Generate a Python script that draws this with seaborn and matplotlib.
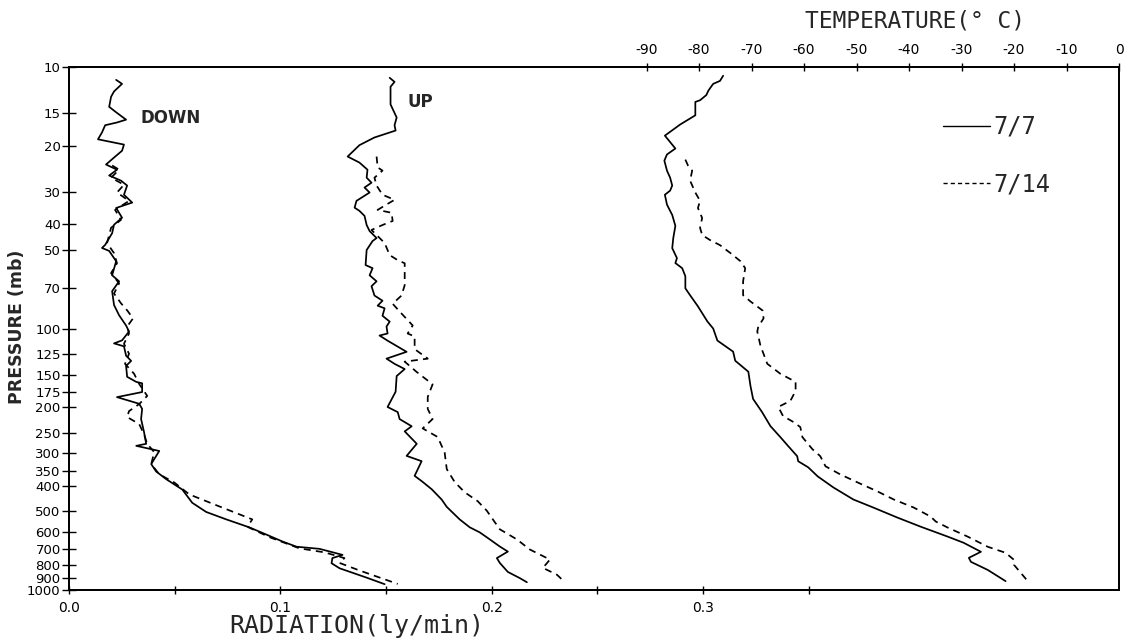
import numpy as np
import pandas as pd
import matplotlib
matplotlib.use("Agg")
import matplotlib.pyplot as plt
from matplotlib.lines import Line2D
from matplotlib.ticker import FixedLocator, NullLocator
import seaborn as sns

# ---- data ----
# downward radiation (ly/min) vs pressure (mb)
down_77_p = [11.2, 11.6, 12.4, 13.0, 14.2, 14.9, 15.9, 16.3, 16.7, 17.8, 18.9, 19.8, 20.9, 22.2,
             23.6, 24.7, 26.0, 27.2, 28.4, 30.8, 33.0, 34.6, 37.7, 40.1, 43.2, 47.9, 49.2, 50.5,
             55.3, 62.6, 66.0, 72.0, 81.3, 89.0, 97.4, 102.7, 111, 114, 117, 127, 133, 139, 153,
             160, 162, 175, 183, 194, 203, 222, 249, 276, 281, 294, 316, 330, 352, 377, 413, 464,
             503, 537, 576, 614, 652, 683, 696, 734, 755, 790, 826, 897, 950]
down_77_rad = [0.0223, 0.0251, 0.0213, 0.0199, 0.019, 0.0223, 0.027, 0.0227, 0.0171, 0.0156,
               0.0137, 0.026, 0.0251, 0.0213, 0.0175, 0.0227, 0.019, 0.0246, 0.0275, 0.026,
               0.0299, 0.0223, 0.0251, 0.0213, 0.0204, 0.0171, 0.0156, 0.019, 0.0223, 0.0204,
               0.0237, 0.0204, 0.0213, 0.0237, 0.027, 0.0284, 0.0251, 0.0213, 0.026, 0.027,
               0.0294, 0.027, 0.0275, 0.0318, 0.0346, 0.0346, 0.0227, 0.0332, 0.0346, 0.0341,
               0.0355, 0.0365, 0.0318, 0.0427, 0.0403, 0.0389, 0.0412, 0.046, 0.0536, 0.0583,
               0.0649, 0.0744, 0.0853, 0.0934, 0.1009, 0.1076, 0.1185, 0.1294, 0.1246, 0.1242,
               0.128, 0.1408, 0.1493]

down_714_p = [23.8, 24.7, 26.5, 28.2, 30.2, 32.5, 35.2, 38.4, 41.2, 47.1, 51.5, 56.3, 61.4, 67.2,
              73.5, 80.1, 85.2, 91.5, 98.3, 104.5, 114.4, 124.9, 136.5, 149, 163, 181, 194.5, 207,
              218, 232, 254, 276, 297, 330, 361, 388, 431, 479, 537, 573, 628, 693, 718, 755, 788,
              842, 948]
down_714_rad = [0.0204, 0.0237, 0.0199, 0.026, 0.0227, 0.0284, 0.0218, 0.0246, 0.0199, 0.018,
                0.0213, 0.0227, 0.0199, 0.0237, 0.0213, 0.0246, 0.0275, 0.0303, 0.0275, 0.0284,
                0.026, 0.0284, 0.0265, 0.0308, 0.0332, 0.037, 0.0332, 0.0284, 0.0275, 0.0332,
                0.0355, 0.037, 0.0403, 0.0389, 0.0427, 0.0498, 0.0569, 0.0711, 0.0867, 0.0844,
                0.0948, 0.109, 0.1209, 0.1303, 0.128, 0.1374, 0.1555]

# upward radiation (ly/min) vs pressure (mb)
up_77_p = [11.0, 11.4, 11.9, 13.9, 15.6, 16.7, 17.5, 18.6, 19.9, 22.0, 23.2, 24.7, 26.5, 27.7,
           28.9, 30.2, 32.5, 34.5, 35.5, 37.1, 40.2, 42.4, 45.1, 46.3, 50.1, 57.2, 58.8, 62.6,
           66.0, 68.9, 74.8, 78.3, 81.8, 83.7, 89.4, 94.1, 98.3, 104.5, 106.4, 111.3, 122.8,
           130.4, 136.5, 142.9, 152, 174.5, 199.6, 208.8, 222, 236.5, 247.4, 276, 307, 321.6,
           366, 386, 412, 451, 481, 537, 576, 602, 640, 682, 713, 755, 788, 853, 901, 934]
up_77_rad = [0.1517, 0.154, 0.1521, 0.1521, 0.155, 0.154, 0.1545, 0.1445, 0.1374, 0.1318,
             0.1374, 0.1412, 0.1408, 0.1431, 0.1398, 0.1422, 0.136, 0.1351, 0.1374, 0.1398,
             0.1408, 0.1422, 0.1455, 0.1436, 0.1408, 0.1403, 0.1436, 0.1422, 0.1455, 0.1431,
             0.1445, 0.1483, 0.146, 0.1493, 0.1483, 0.1517, 0.1502, 0.1507, 0.1469, 0.1507,
             0.1597, 0.1502, 0.154, 0.1588, 0.155, 0.1545, 0.1507, 0.1555, 0.1564, 0.1621,
             0.1588, 0.1645, 0.1597, 0.1668, 0.1635, 0.1673, 0.1716, 0.1763, 0.1787, 0.1848,
             0.1896, 0.1943, 0.199, 0.2038, 0.2076, 0.2024, 0.2038, 0.2076, 0.2133, 0.2166]

up_714_p = [22.0, 24.2, 24.9, 26.5, 28.4, 30.8, 32.2, 33.9, 35.2, 36.1,
            38.8, 40.2, 42.0, 47.1, 52.4, 54.8, 56.3, 68.3, 74.8, 80.4,
            86.1, 97.4, 104.5, 107.3, 119.9, 130.4, 133.9, 146.7, 163.5, 182.6,
            203, 222, 241, 260, 298, 345, 387, 423, 458, 497,
            537, 586, 640, 700, 765, 823, 874, 934]
up_714_rad = [0.1455, 0.146, 0.1483, 0.1445, 0.1455, 0.1483, 0.154, 0.1493, 0.146, 0.1526,
              0.1531, 0.1483, 0.1431, 0.1493, 0.1517, 0.1555, 0.1588, 0.1588, 0.1573, 0.1531,
              0.1564, 0.1626, 0.1602, 0.1635, 0.1635, 0.1697, 0.1588, 0.1645, 0.172, 0.1697,
              0.1697, 0.172, 0.1673, 0.1744, 0.1777, 0.1787, 0.1825, 0.1872, 0.1934, 0.1976,
              0.2005, 0.2038, 0.2118, 0.218, 0.2275, 0.2242, 0.2308, 0.2346]

# temperature (deg C) vs pressure (mb)
temp_77_p = [10.8, 11.3, 11.6, 12.3, 12.8, 13.4, 13.6, 15.3, 16.6, 18.3, 20.5, 21.6, 22.8, 24.9,
             26.5, 28.4, 29.7, 30.8, 33.6, 36.8, 40.5, 45.1, 49.3, 53.8, 56.2, 58.8, 63.1, 70.2,
             74.6, 82.3, 94.0, 100, 111.2, 122.6, 132.8, 146.3, 165.6, 185.9, 208.6, 236.1,
             260.3, 281.8, 307.8, 321.9, 339.5, 367.6, 405.4, 450.7, 483.8, 528.6, 572.4, 625.3,
             659.7, 714.3, 753.4, 780.5, 838, 925]
temp_77_c = [-75.4, -76.0, -77.3, -78.2, -78.6, -79.8, -80.7, -80.7, -83.6, -86.5, -84.5, -86.1,
             -86.6, -86.1, -85.5, -85.1, -85.5, -86.5, -86.1, -85.1, -84.5, -84.9, -85.1, -84.2,
             -84.5, -83.2, -82.6, -82.6, -81.7, -80.2, -78.4, -77.3, -76.5, -73.5, -73.1, -70.6,
             -70.2, -69.7, -68.0, -66.4, -64.5, -63.0, -61.3, -61.1, -59.2, -57.4, -54.4, -50.6,
             -46.8, -42.2, -37.8, -32.6, -29.6, -26.3, -28.6, -28.2, -25.0, -21.6]

temp_714_p = [22.6, 23.8, 24.9, 27.2, 30.2, 32.5, 34.6, 37.8, 41.2, 43.9, 45.9, 48.0, 51.5, 55.3,
              58.8, 66.0, 74.6, 78.8, 85.3, 91.5, 98.2, 102.7, 116.2, 136.4, 149, 160, 173.2,
              189.2, 199.5, 216.1, 227.9, 238.3, 260.3, 289.4, 307.8, 336.5, 361.3, 387.8, 419.8,
              450.7, 483.8, 523.6, 547.2, 577.5, 625.3, 683.4, 720.7, 766.8, 801.4, 934]
temp_714_c = [-82.6, -82.1, -81.3, -81.7, -80.7, -79.8, -80.2, -79.4, -79.8, -79.4, -77.9, -76.0,
              -74.0, -72.1, -71.2, -71.6, -71.6, -70.2, -67.9, -67.7, -68.7, -68.9, -68.3, -67.0,
              -64.5, -61.6, -61.6, -62.6, -64.9, -64.0, -62.0, -60.7, -60.3, -58.4, -56.9, -55.9,
              -53.1, -49.8, -46.0, -42.9, -39.1, -35.9, -34.9, -32.6, -28.8, -25.0, -21.6, -20.0,
              -20.0, -17.2]

p_ticks = [10, 15, 20, 30, 40, 50, 70, 100, 125, 150, 175, 200, 250, 300, 350, 400,
           500, 600, 700, 800, 900, 1000]
rad_ticks = [0.0, 0.1, 0.2, 0.3]
rad_minor = [0.05, 0.15, 0.25, 0.35]
temp_ticks = [-90, -80, -70, -60, -50, -40, -30, -20, -10, 0]

sns.set_style("ticks")
plt.rcParams['font.family'] = ['DejaVu Sans']

W, H = 1137, 643
fig = plt.figure(figsize=(W / 100, H / 100), dpi=100)
ax = fig.add_axes([69 / W, 1 - 590 / H, 1050 / W, 523 / H])
ax2 = ax.twiny()

SOLID = '-'
DASHED = (0, (4.0, 3.0))


def draw(axis, p, v, style):
    df = pd.DataFrame({'p': p, 'v': v})
    sns.lineplot(data=df, x='v', y='p', sort=False, estimator=None, ax=axis,
                 color='black', lw=1.25, linestyle=style)


draw(ax, down_77_p, down_77_rad, SOLID)
draw(ax, down_714_p, down_714_rad, DASHED)
draw(ax, up_77_p, up_77_rad, SOLID)
draw(ax, up_714_p, up_714_rad, DASHED)
draw(ax2, temp_77_p, temp_77_c, SOLID)
draw(ax2, temp_714_p, temp_714_c, DASHED)

# pressure axis (log, inverted)
ax.set_yscale('log')
ax.set_ylim(1000, 10)
ax.yaxis.set_major_locator(FixedLocator(p_ticks))
ax.yaxis.set_minor_locator(NullLocator())
ax.set_yticklabels([str(v) for v in p_ticks])

# radiation axis (bottom)
ax.set_xlim(0, 0.4967)
ax.xaxis.set_major_locator(FixedLocator(rad_ticks))
ax.xaxis.set_minor_locator(FixedLocator(rad_minor))
ax.set_xticklabels([f"{v:.1f}" for v in rad_ticks])

# temperature axis (top)
ax2.set_xlim(-200, 0)
ax2.xaxis.set_major_locator(FixedLocator(temp_ticks))
ax2.xaxis.set_minor_locator(NullLocator())
ax2.set_xticklabels([str(v) for v in temp_ticks])

ax.set_xlabel('')
ax.set_ylabel('')
ax2.set_xlabel('')
ax2.set_ylabel('')

ax.tick_params(axis='y', which='major', direction='inout', length=10, width=1,
               labelsize=9.5, pad=1, colors='black')
ax.tick_params(axis='x', which='both', direction='inout', length=6, width=1,
               labelsize=10, pad=5, colors='black')
ax2.tick_params(axis='x', which='major', direction='inout', length=6, width=1,
                labelsize=10, pad=4, colors='black')

for a in (ax, ax2):
    for s in a.spines.values():
        s.set_color('black')
        s.set_linewidth(1.3)
        s.set_visible(True)

# curve labels
ax.text(0.034, 15.6, 'DOWN', fontweight='bold', fontsize=12, va='center', ha='left')
ax.text(0.160, 13.6, 'UP', fontweight='bold', fontsize=12, va='center', ha='left')

# legend
handles = [Line2D([], [], color='black', lw=1.0, linestyle='-'),
           Line2D([], [], color='black', lw=1.0, linestyle=(0, (3.0, 2.2)))]
ax2.legend(handles, ['7/7', '7/14'], loc='upper left',
           bbox_to_anchor=((943 - 69) / 1050, 1 - (115 - 67) / 523),
           frameon=False, prop={'family': 'DejaVu Sans Mono', 'size': 17},
           handlelength=2.0, handletextpad=0.15, labelspacing=1.4,
           borderpad=0, borderaxespad=0)

# axis titles
fig.text(17.5 / W, 1 - 327 / H, 'PRESSURE (mb)', rotation=90, fontweight='bold',
         fontsize=12.5, ha='center', va='center')
fig.text(357 / W, 1 - 626 / H, 'RADIATION(ly/min)', family='DejaVu Sans Mono',
         fontsize=18, ha='center', va='center')
fig.text(915 / W, 1 - 21 / H, 'TEMPERATURE(° C)', family='DejaVu Sans Mono',
         fontsize=16.5, ha='center', va='center')

fig.savefig('out.png', dpi=100, facecolor='white')
